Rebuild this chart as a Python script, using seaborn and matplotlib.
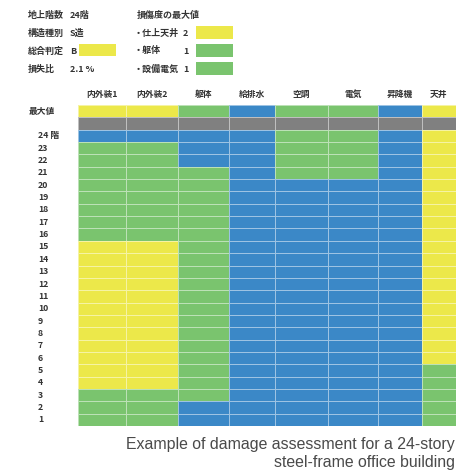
import matplotlib
matplotlib.use("Agg")
import matplotlib.pyplot as plt
from matplotlib.colors import ListedColormap
from matplotlib.patches import Rectangle
from matplotlib.transforms import blended_transform_factory
import seaborn as sns
import pandas as pd

# ---------------- data ----------------
columns = ['内外装1', '内外装2', '躯体', '給排水', '空調', '電気', '昇降機', '天井']
floor_labels = ['24 階', '23', '22', '21', '20', '19', '18', '17', '16', '15', '14', '13',
                '12', '11', '10', '9', '8', '7', '6', '5', '4', '3', '2', '1']
# damage level: 0 = blue, 1 = green, 2 = yellow ; 3 = separator (gray)
max_values = [2, 2, 1, 0, 1, 1, 0, 2]
separator = [3, 3, 3, 3, 3, 3, 3, 3]
naigaiso1 = [0, 1, 1, 1, 1, 1, 1, 1, 1, 2, 2, 2, 2, 2, 2, 2, 2, 2, 2, 2, 2, 1, 1, 1]
naigaiso2 = [0, 1, 1, 1, 1, 1, 1, 1, 1, 2, 2, 2, 2, 2, 2, 2, 2, 2, 2, 2, 2, 1, 1, 1]
kutai     = [0, 0, 0, 1, 1, 1, 1, 1, 1, 1, 1, 1, 1, 1, 1, 1, 1, 1, 1, 1, 1, 1, 0, 0]
kyuhaisui = [0, 0, 0, 0, 0, 0, 0, 0, 0, 0, 0, 0, 0, 0, 0, 0, 0, 0, 0, 0, 0, 0, 0, 0]
kucho     = [1, 1, 1, 1, 0, 0, 0, 0, 0, 0, 0, 0, 0, 0, 0, 0, 0, 0, 0, 0, 0, 0, 0, 0]
denki     = [1, 1, 1, 1, 0, 0, 0, 0, 0, 0, 0, 0, 0, 0, 0, 0, 0, 0, 0, 0, 0, 0, 0, 0]
shokoki   = [0, 0, 0, 0, 0, 0, 0, 0, 0, 0, 0, 0, 0, 0, 0, 0, 0, 0, 0, 0, 0, 0, 0, 0]
tenjo     = [2, 2, 2, 2, 2, 2, 2, 2, 2, 2, 2, 2, 2, 2, 2, 2, 2, 2, 2, 1, 1, 1, 1, 1]

info_left = [('地上階数', '24階'), ('構造種別', 'S造'), ('総合判定', 'B'), ('損失比', '2.1 %')]
info_right_title = '損傷度の最大値'
info_right = [('・仕上天井', '2', 2), ('・躯体', '1', 1), ('・設備電気', '1', 1)]
caption = 'Example of damage assessment for a 24-story\nsteel-frame office building'

# ---------------- build table ----------------
series = [naigaiso1, naigaiso2, kutai, kyuhaisui, kucho, denki, shokoki, tenjo]
row_labels = ['最大値', ''] + floor_labels
table = {}
for i, col in enumerate(columns):
    table[col] = [max_values[i], separator[i]] + series[i]
df = pd.DataFrame(table, index=row_labels)

# ---------------- style ----------------
BLUE = '#3b88c7'
GREEN = '#7ac46e'
YELLOW = '#ece84a'
GRAY = '#808080'
cmap = ListedColormap([BLUE, GREEN, YELLOW, GRAY])
level_colors = {0: BLUE, 1: GREEN, 2: YELLOW}
TXT = '#333333'
JP = ['Noto Sans CJK JP', 'DejaVu Sans']
FS = 6.3

W, H = 459, 473
fig = plt.figure(figsize=(W / 100, H / 100), dpi=100)
fig.patch.set_facecolor('white')

col_widths = [48, 52, 51, 46, 53, 50, 44, 34]
gs = fig.add_gridspec(1, len(columns), width_ratios=col_widths,
                      left=78 / W, right=456 / W, top=1 - 105 / H, bottom=1 - 426 / H,
                      wspace=0)
axes = []
for i, col in enumerate(columns):
    ax = fig.add_subplot(gs[0, i])
    sns.heatmap(df[[col]], ax=ax, cmap=cmap, vmin=-0.5, vmax=3.5, cbar=False,
                linewidths=0.6, linecolor=(1, 1, 1, 0.5),
                xticklabels=False, yticklabels=False)
    ax.set_xlabel('')
    ax.set_ylabel('')
    ax.tick_params(left=False, bottom=False)
    htr = blended_transform_factory(ax.transAxes, fig.transFigure)
    ax.text(0.5, 1 - 94 / H, col, transform=htr, ha='center', va='center',
            fontsize=FS, fontweight='bold', color=TXT, family=JP)
    axes.append(ax)

# row labels
ax0 = axes[0]
tr = blended_transform_factory(fig.transFigure, ax0.transData)
for r, lab in enumerate(row_labels):
    if not lab:
        continue
    x = 29 / W if lab == '最大値' else 38 / W
    ax0.text(x, r + 0.5, lab, transform=tr, ha='left', va='center',
             fontsize=FS, fontweight='bold', color=TXT, family=JP)

# info block (left)
ys = [15, 33, 51, 69]
for (k, v), y in zip(info_left, ys):
    fig.text(28 / W, 1 - y / H, k, ha='left', va='center', fontsize=6.5,
             fontweight='bold', color=TXT, family=JP)
    fig.text(70 / W, 1 - y / H, v, ha='left', va='center', fontsize=6.5,
             fontweight='bold', color=TXT, family=JP)
fig.patches.append(Rectangle((79 / W, 1 - 56 / H), 37 / W, 12 / H,
                             transform=fig.transFigure, facecolor=level_colors[2],
                             edgecolor='none'))

# info block (right)
fig.text(137 / W, 1 - 15 / H, info_right_title, ha='left', va='center', fontsize=6.5,
         fontweight='bold', color=TXT, family=JP)
for (k, v, lvl), y in zip(info_right, ys[1:]):
    fig.text(134 / W, 1 - y / H, k, ha='left', va='center', fontsize=6.5,
             fontweight='bold', color=TXT, family=JP)
    fig.text(183 / W, 1 - y / H, v, ha='left', va='center', fontsize=6.5,
             fontweight='bold', color=TXT, family=JP)
    fig.patches.append(Rectangle((196 / W, 1 - (y + 6.5) / H), 37 / W, 13 / H,
                                 transform=fig.transFigure,
                                 facecolor=level_colors[lvl], edgecolor='none'))

# caption
fig.text(455 / W, 1 - 453 / H, caption, ha='right', va='center', fontsize=11.4,
         color='#4a4a4a', family=['Liberation Sans', 'DejaVu Sans'],
         linespacing=1.25)

fig.savefig('out.png', dpi=100, facecolor='white')
